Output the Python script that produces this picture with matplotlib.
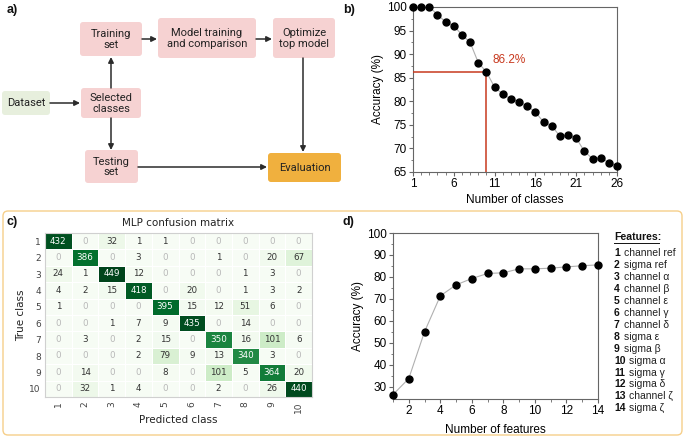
import matplotlib.pyplot as plt
import numpy as np
from matplotlib.patches import FancyBboxPatch
from matplotlib.ticker import MultipleLocator

plt.rcParams["font.family"] = ["Liberation Sans", "DejaVu Sans"]

# panel b: accuracy vs number of classes
n_classes = list(range(1, 27))
acc_classes = [100, 100, 100, 98.4, 96.8, 96.0, 94.1, 92.5, 88.2, 86.2,
               83.0, 81.5, 80.5, 79.9, 79.0, 77.7, 75.6, 74.8, 72.6, 72.8,
               72.2, 69.4, 67.8, 68.0, 67.0, 66.3]
chosen_n = 10
chosen_acc = 86.2

# panel c: MLP confusion matrix
class_labels = [str(i) for i in range(1, 11)]
confusion = [
    [432, 0, 32, 1, 1, 0, 0, 0, 0, 0],
    [0, 386, 0, 3, 0, 0, 1, 0, 20, 67],
    [24, 1, 449, 12, 0, 0, 0, 1, 3, 0],
    [4, 2, 15, 418, 0, 20, 0, 1, 3, 2],
    [1, 0, 0, 0, 395, 15, 12, 51, 6, 0],
    [0, 0, 1, 7, 9, 435, 0, 14, 0, 0],
    [0, 3, 0, 2, 15, 0, 350, 16, 101, 6],
    [0, 0, 0, 2, 79, 9, 13, 340, 3, 0],
    [0, 14, 0, 0, 8, 0, 101, 5, 364, 20],
    [0, 32, 1, 4, 0, 0, 2, 0, 26, 440],
]

# panel d: accuracy vs number of features
n_features = list(range(1, 15))
acc_features = [26.5, 33.8, 55.1, 71.4, 76.4, 79.3, 81.6, 81.9, 83.7, 83.7,
                84.0, 84.6, 85.1, 85.5]
feature_names = ["channel ref", "sigma ref", "channel α", "channel β",
                 "channel ε", "channel γ", "channel δ", "sigma ε", "sigma β",
                 "sigma α", "sigma γ", "sigma δ", "channel ζ", "sigma ζ"]

# panel a: flowchart box texts
flow_boxes = {
    "train": "Training\nset",
    "model": "Model training\nand comparison",
    "opt": "Optimize\ntop model",
    "data": "Dataset",
    "sel": "Selected\nclasses",
    "test": "Testing\nset",
    "eval": "Evaluation",
}

W, H = 685, 438
fig = plt.figure(figsize=(W / 100, H / 100), dpi=100)


def px_rect(x0, y0, x1, y1):
    return [x0 / W, 1 - y1 / H, (x1 - x0) / W, (y1 - y0) / H]


PINK = "#f6d2d2"
GREEN_BOX = "#e7efdd"
ORANGE = "#f0b03e"
RED = "#c8391e"
DARK = "#2b2b2b"
SPINE = "#666666"

# overlay axes in pixel coordinates for the flowchart, labels and frame
ov = fig.add_axes([0, 0, 1, 1])
ov.set_xlim(0, W)
ov.set_ylim(H, 0)
ov.axis("off")

ov.add_patch(FancyBboxPatch((3, 211), 679, 224,
                            boxstyle="round,pad=0,rounding_size=5",
                            fc="none", ec="#f6cf8a", lw=1.0))

box_geom = {
    "train": (80, 22, 142, 56, PINK),
    "model": (158, 18, 256, 58, PINK),
    "opt": (273, 18, 335, 58, PINK),
    "data": (2, 91, 50, 115, GREEN_BOX),
    "sel": (81, 88, 141, 118, PINK),
    "test": (85, 150, 138, 183, PINK),
    "eval": (268, 153, 341, 182, ORANGE),
}
for key, (x0, y0, x1, y1, c) in box_geom.items():
    ov.add_patch(FancyBboxPatch((x0, y0), x1 - x0, y1 - y0,
                                boxstyle="round,pad=0,rounding_size=3",
                                fc=c, ec="none"))
    ov.text((x0 + x1) / 2, (y0 + y1) / 2 + 0.5, flow_boxes[key],
            ha="center", va="center", fontsize=8, family="Roboto",
            color="#222222", linespacing=1.1)

arrow_kw = dict(arrowstyle="-|>", color=DARK, lw=1.1, mutation_scale=8,
                shrinkA=0, shrinkB=0)
arrows = [
    ((50, 103), (80, 103)),
    ((111, 88), (111, 57)),
    ((111, 118), (111, 150)),
    ((142, 39), (157, 39)),
    ((256, 39), (272, 39)),
    ((303, 58), (303, 152)),
    ((138, 167), (267, 167)),
]
for start, end in arrows:
    ov.annotate("", xy=end, xytext=start, arrowprops=arrow_kw)

for lab, (x, y) in {"a)": (7, 10), "b)": (343, 10),
                    "c)": (7, 222), "d)": (343, 222)}.items():
    ov.text(x, y, lab, fontsize=9, fontweight="bold",
            ha="left", va="center", color="#111111")


def style_line_axes(ax):
    for s in ax.spines.values():
        s.set_color(SPINE)
        s.set_linewidth(0.8)
    ax.tick_params(which="both", direction="out", color=SPINE,
                   labelsize=8.5, pad=1.5)
    ax.tick_params(which="major", length=3, width=0.8)
    ax.tick_params(which="minor", length=1.8, width=0.6)


# panel b
axb = fig.add_axes(px_rect(413, 7, 617, 172))
axb.plot(n_classes, acc_classes, color="#b0b0b0", lw=0.8, zorder=2)
axb.plot(n_classes, acc_classes, "o", color="black", ms=5, zorder=4,
         clip_on=False)
axb.plot([1, chosen_n], [chosen_acc, chosen_acc], color=RED, lw=1.1, zorder=3)
axb.plot([chosen_n, chosen_n], [65, chosen_acc], color=RED, lw=1.1, zorder=3)
axb.text(chosen_n + 0.7, chosen_acc + 1.2, f"{chosen_acc}%", color=RED,
         fontsize=8.5, va="bottom")
axb.set_xlim(1, 26)
axb.set_ylim(65, 100)
axb.set_xticks([1, 6, 11, 16, 21, 26])
axb.set_yticks(range(65, 101, 5))
axb.xaxis.set_minor_locator(MultipleLocator(1))
axb.yaxis.set_minor_locator(MultipleLocator(2.5))
axb.set_xlabel("Number of classes", fontsize=8.5, labelpad=3)
axb.set_ylabel("Accuracy (%)", fontsize=8.5, labelpad=2)
style_line_axes(axb)

# panel c
axc = fig.add_axes(px_rect(45, 233, 312, 397))
cm = np.array(confusion)
axc.pcolormesh(cm, cmap="Greens", vmin=0, vmax=cm.max(),
               edgecolors="white", linewidth=0.6)
axc.set_xlim(0, 10)
axc.set_ylim(10, 0)
for i in range(10):
    for j in range(10):
        v = cm[i, j]
        if v > 250:
            col = "white"
        elif v == 0:
            col = "#b8b8b8"
        else:
            col = "#333333"
        axc.text(j + 0.5, i + 0.5, str(v), ha="center", va="center",
                 fontsize=6.3, color=col, family="DejaVu Sans")
axc.set_xticks(np.arange(10) + 0.5)
axc.set_xticklabels(class_labels, rotation=90, family="DejaVu Sans")
axc.set_yticks(np.arange(10) + 0.5)
axc.set_yticklabels(class_labels, family="DejaVu Sans")
axc.tick_params(length=0, labelsize=6.5, colors="#444444", pad=3)
for s in axc.spines.values():
    s.set_color("#d0d0d0")
    s.set_linewidth(0.8)
axc.set_title("MLP confusion matrix", fontsize=7.5, family="DejaVu Sans",
              color="#222222", pad=5)
axc.set_xlabel("Predicted class", fontsize=7.5, family="DejaVu Sans",
               color="#222222", labelpad=2)
axc.set_ylabel("True class", fontsize=7.5, family="DejaVu Sans",
               color="#222222", labelpad=2)

# panel d
axd = fig.add_axes(px_rect(393, 233, 598, 399))
axd.plot(n_features, acc_features, color="#b0b0b0", lw=0.8, zorder=2)
axd.plot(n_features, acc_features, "o", color="black", ms=5, zorder=4,
         clip_on=False)
axd.set_xlim(1, 14)
axd.set_ylim(24.5, 100)
axd.set_xticks(range(2, 15, 2))
axd.set_yticks(range(30, 101, 10))
axd.xaxis.set_minor_locator(MultipleLocator(1))
axd.yaxis.set_minor_locator(MultipleLocator(5))
axd.set_xlabel("Number of features", fontsize=8.5, labelpad=5)
axd.set_ylabel("Accuracy (%)", fontsize=8.5, labelpad=2)
style_line_axes(axd)

# feature list
ov.text(614, 237, "Features:", fontsize=7.6, fontweight="bold",
        va="center", ha="left", color="#111111")
ov.plot([614, 659], [243, 243], color="#111111", lw=0.7)
for k, name in enumerate(feature_names):
    y = 253 + k * 11.95
    ov.text(614, y, str(k + 1), fontsize=7.5, fontweight="bold",
            va="center", ha="left", color="#111111")
    off = 10 if k < 9 else 15.5
    ov.text(614 + off, y, name, fontsize=7.5,
            va="center", ha="left", color="#222222")

fig.savefig("out.png", dpi=100)
